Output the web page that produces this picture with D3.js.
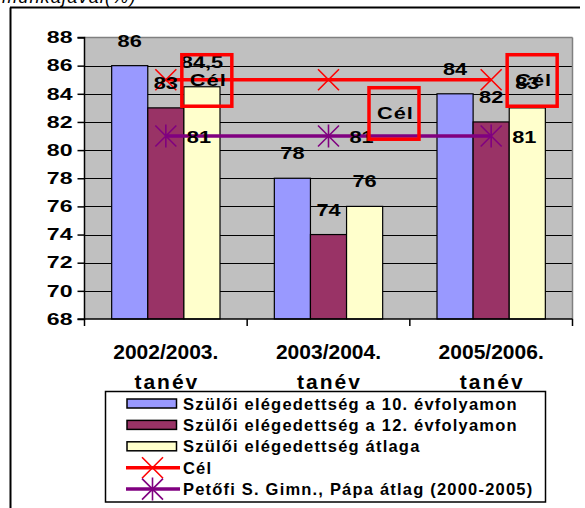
<!DOCTYPE html>
<html><head><meta charset="utf-8">
<script src="https://cdn.jsdelivr.net/npm/d3@7"></script>
<style>body{margin:0;background:#fff}svg{display:block}text{font-family:"Liberation Sans",Arial,sans-serif}</style>
</head><body><svg id="c" width="585" height="508"></svg>
<script>
const categories = ["2002/2003.|tanév", "2003/2004.|tanév", "2005/2006.|tanév"];
const seriesNames = ["Szülői elégedettség a 10. évfolyamon", "Szülői elégedettség a 12. évfolyamon", "Szülői elégedettség átlaga"];
const grade10 = [86, 78, 84];
const grade12 = [83, 74, 82];
const average = [84.5, 76, 83];
const barLabels = [["86","78","84"],["83","74","82"],["84,5","76","83"]];
const target = [85, 85, 85];
const targetName = "Cél";
const schoolAvg = [81, 81, 81];
const schoolAvgName = "Petőfi S. Gimn., Pápa átlag (2000-2005)";
const yTicks = [68,70,72,74,76,78,80,82,84,86,88];
const titleFragment = "munkájával(%)";

const svg = d3.select("#c");
const L = 84.5, R = 572.5, T = 37.5, B = 319;
const colors = ["#9999FF", "#993366", "#FFFFCC"];
const bars = [grade10, grade12, average];

// outer frame (partially visible)
svg.append("line").attr("x1",10.5).attr("x2",10.5).attr("y1",7.5).attr("y2",508).attr("stroke","#000").attr("stroke-width",2);
svg.append("line").attr("x1",10).attr("x2",580).attr("y1",7.5).attr("y2",7.5).attr("stroke","#000").attr("stroke-width",2);
svg.append("text").attr("x",2).attr("y",3).attr("font-size",18).attr("font-style","italic").attr("letter-spacing",1.2).text(titleFragment);

const x = d3.scaleBand().domain(categories).range([L, R]).paddingInner(0).paddingOuter(0);
const y = d3.scaleLinear().domain([68, 88]).range([B, T]);
const groupW = x.bandwidth() * 0.666;
const xs = d3.scaleBand().domain([0,1,2]).range([0, groupW]);

// plot background
svg.append("rect").attr("x",L).attr("y",T).attr("width",R-L).attr("height",B-T).attr("fill","#C0C0C0");
// gridlines
svg.append("g").selectAll("line").data(yTicks.filter(v => v > 68 && v < 88)).join("line")
  .attr("x1",L).attr("x2",R).attr("y1",d=>Math.round(y(d))+0.5).attr("y2",d=>Math.round(y(d))+0.5)
  .attr("stroke","#000").attr("stroke-width",1);
svg.append("line").attr("x1",L).attr("x2",R).attr("y1",T).attr("y2",T).attr("stroke","#808080").attr("stroke-width",1.5);
svg.append("line").attr("x1",R).attr("x2",R).attr("y1",T).attr("y2",B).attr("stroke","#808080").attr("stroke-width",1.5);

// bars
bars.forEach((vals, si) => {
  svg.append("g").selectAll("rect").data(vals).join("rect")
    .attr("x",(d,i)=> x(categories[i]) + (x.bandwidth()-groupW)/2 + xs(si))
    .attr("y",d=>y(d)).attr("width",xs.bandwidth()).attr("height",d=>B-y(d))
    .attr("fill",colors[si]).attr("stroke","#000").attr("stroke-width",1.2);
});

// axes
const yAxis = d3.axisLeft(y).tickValues(yTicks).tickSize(7).tickPadding(12).tickFormat(d3.format("d"));
const ya = svg.append("g").attr("transform",`translate(${L},0)`).call(yAxis);
ya.select(".domain").attr("stroke","#000").attr("stroke-width",1.5).attr("d",`M-7,${T}H0V${B}H-7`);
ya.selectAll(".tick line").attr("stroke","#000").attr("stroke-width",1.5);
ya.selectAll(".tick text").attr("x",0).attr("transform","translate(-12,0) scale(1.4,1)")
  .attr("font-size",16.5).attr("font-weight","bold").attr("fill","#000").attr("font-family","Liberation Sans, Arial, sans-serif");

svg.append("line").attr("x1",L).attr("x2",R).attr("y1",B).attr("y2",B).attr("stroke","#000").attr("stroke-width",1.5);
const bounds = categories.map(c => x(c)).concat([R]);
svg.append("g").selectAll("line").data(bounds).join("line")
  .attr("x1",d=>d).attr("x2",d=>d).attr("y1",B).attr("y2",B+7).attr("stroke","#000").attr("stroke-width",1.5);
const xl = svg.append("g").selectAll("text").data(categories).join("text")
  .attr("text-anchor","middle").attr("font-size",21).attr("font-weight","bold");
xl.append("tspan").attr("x",d=>x(d)+x.bandwidth()/2).attr("y",359).text(d=>d.split("|")[0]);
xl.append("tspan").attr("x",d=>x(d)+x.bandwidth()/2 + 1).attr("y",389).attr("letter-spacing",2).text(d=>d.split("|")[1]);

const cx = i => x(categories[i]) + x.bandwidth()/2;

// lines
const lineGen = d3.line().x((d,i)=>cx(i)).y(d=>y(d));
svg.append("path").datum(target).attr("d",lineGen).attr("fill","none").attr("stroke","#FF0000").attr("stroke-width",3.5);
svg.append("path").datum(schoolAvg).attr("d",lineGen).attr("fill","none").attr("stroke","#800080").attr("stroke-width",3.5);

function xMarker(g, px, py, col, star) {
  const s = 10.5;
  g.append("path").attr("d",`M${px-s},${py-s}L${px+s},${py+s}M${px-s},${py+s}L${px+s},${py-s}` + (star ? `M${px},${py-s-1}V${py+s+1}` : ""))
    .attr("stroke",col).attr("stroke-width",1.6).attr("fill","none");
}
const mg = svg.append("g");
target.forEach((v,i)=>xMarker(mg, cx(i), y(v), "#FF0000", false));
schoolAvg.forEach((v,i)=>xMarker(mg, cx(i), y(v), "#800080", true));

const SX = 1.28;
// bar labels
bars.forEach((vals, si) => {
  svg.append("g").selectAll("text").data(vals).join("text")
    .attr("transform",(d,i)=>`translate(${x(categories[i]) + (x.bandwidth()-groupW)/2 + xs(si) + xs.bandwidth()/2},${y(d)-19}) scale(${SX},1)`)
    .attr("text-anchor","middle").attr("font-size",17).attr("font-weight","bold")
    .text((d,i)=>barLabels[si][i]);
});
// school avg labels
svg.append("g").selectAll("text").data(schoolAvg).join("text")
  .attr("transform",(d,i)=>`translate(${cx(i)+21},${y(d)+7}) scale(${SX},1)`).attr("font-size",17).attr("font-weight","bold")
  .text(d=>d3.format("d")(d));
// target labels with red boxes
const shifts = [[0,0],[24.5,33],[0,0]];
const tg = svg.append("g");
target.forEach((v,i)=>{
  const px = cx(i) + shifts[i][0], py = y(v) + shifts[i][1];
  tg.append("rect").attr("x",px+16).attr("y",py-25).attr("width",50).attr("height",51.5)
    .attr("fill","none").attr("stroke","#FF0000").attr("stroke-width",3.5);
  tg.append("text").attr("transform",`translate(${px+24},${py+6.5}) scale(${SX},1)`).attr("font-size",17).attr("font-weight","bold").attr("letter-spacing",0.8).text(targetName);
});

// legend
const lg = svg.append("g");
lg.append("rect").attr("x",105.5).attr("y",391.5).attr("width",440).attr("height",110.5).attr("fill","#fff").attr("stroke","#000").attr("stroke-width",1.5);
const rowY = i => 403.5 + i*21.4;
seriesNames.forEach((n,i)=>{
  lg.append("rect").attr("x",127).attr("y",rowY(i)-4.5).attr("width",49.5).attr("height",9).attr("fill",colors[i]).attr("stroke","#000").attr("stroke-width",1.5);
});
[["#FF0000",false],["#800080",true]].forEach((c,j)=>{
  const ry = rowY(3+j);
  lg.append("line").attr("x1",126).attr("x2",180).attr("y1",ry).attr("y2",ry).attr("stroke",c[0]).attr("stroke-width",3.5);
  xMarker(lg, 152.5, ry, c[0], c[1]);
});
seriesNames.concat([targetName, schoolAvgName]).forEach((n,i)=>{
  lg.append("text").attr("x",183).attr("y",rowY(i)+6).attr("font-size",16.5).attr("font-weight","bold").attr("letter-spacing",1.2).text(n);
});
</script></body></html>
